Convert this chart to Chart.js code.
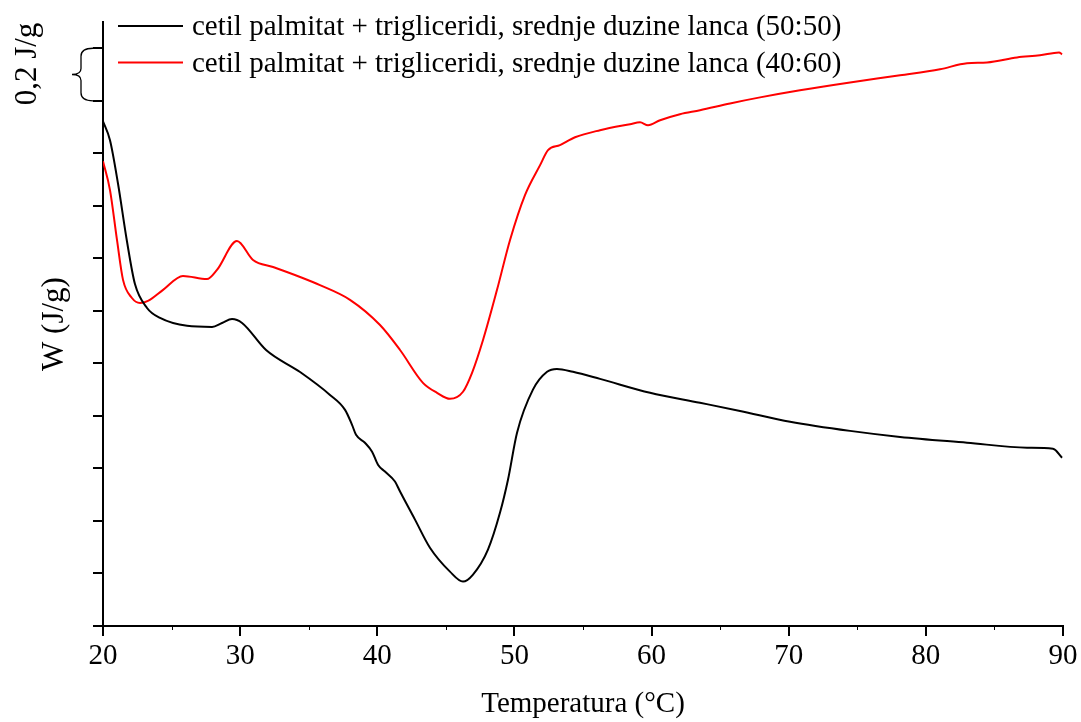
<!DOCTYPE html>
<html>
<head>
<meta charset="utf-8">
<script src="https://cdn.jsdelivr.net/npm/chart.js@4/dist/chart.umd.min.js"></script>
<style>
body { margin: 0; background: #fff; }
</style>
</head>
<body>
<canvas id="dsc" width="1081" height="722"></canvas>
<script>
// temperatures (°C) and heat flow (J/g, arbitrary offset)
var blackT = [20.0, 20.51, 21.09, 21.75, 22.33, 23.21, 24.16, 26.13, 27.95, 28.68, 29.41, 30.14, 31.89, 34.37, 36.55, 37.65, 38.16, 38.45, 39.10, 39.62, 40.05, 40.56, 41.29, 41.66, 42.75, 43.84, 45.30, 46.25, 46.98, 48.07, 48.95, 49.53, 50.19, 51.35, 52.38, 53.10, 54.27, 56.24, 59.89, 63.53, 66.45, 70.10, 74.47, 78.12, 83.00, 87.38, 89.27, 89.93];
var blackW = [1.922, 1.850, 1.686, 1.464, 1.302, 1.211, 1.173, 1.143, 1.139, 1.154, 1.169, 1.154, 1.051, 0.967, 0.880, 0.823, 0.766, 0.728, 0.698, 0.664, 0.614, 0.588, 0.550, 0.512, 0.405, 0.298, 0.207, 0.169, 0.196, 0.291, 0.432, 0.557, 0.736, 0.900, 0.968, 0.979, 0.968, 0.941, 0.888, 0.850, 0.819, 0.778, 0.743, 0.720, 0.698, 0.679, 0.675, 0.641];

var redT = [20.0, 20.51, 21.02, 21.46, 22.11, 22.70, 23.28, 24.38, 25.83, 27.58, 28.31, 29.77, 30.94, 32.40, 34.37, 35.82, 38.01, 40.20, 41.66, 43.33, 44.36, 45.30, 46.25, 46.91, 47.71, 48.73, 49.68, 50.77, 51.87, 52.45, 53.32, 54.42, 56.24, 58.43, 59.16, 59.74, 60.62, 62.07, 63.53, 65.72, 67.91, 70.82, 74.47, 78.12, 81.03, 83.00, 84.46, 86.65, 88.32, 89.71, 89.93];
var redW = [1.770, 1.660, 1.470, 1.318, 1.249, 1.230, 1.238, 1.280, 1.333, 1.321, 1.356, 1.466, 1.394, 1.367, 1.329, 1.298, 1.242, 1.146, 1.051, 0.926, 0.888, 0.865, 0.892, 0.964, 1.089, 1.280, 1.470, 1.641, 1.755, 1.812, 1.831, 1.861, 1.888, 1.911, 1.918, 1.907, 1.926, 1.949, 1.964, 1.990, 2.013, 2.040, 2.070, 2.097, 2.120, 2.143, 2.146, 2.165, 2.173, 2.184, 2.177];

var seriesLabels = ['cetil palmitat + trigliceridi, srednje duzine lanca (50:50)', 'cetil palmitat + trigliceridi, srednje duzine lanca (40:60)'];
var xTicks = [20, 30, 40, 50, 60, 70, 80, 90];
var yTicks = [0, 0.2, 0.4, 0.6, 0.8, 1.0, 1.2, 1.4, 1.6, 1.8, 2.0, 2.2];

Chart.defaults.font.family = 'Liberation Serif';
Chart.defaults.color = '#000';

function pts(xs, ys) {
    return xs.map(function(x, i) { return {x: x, y: ys[i]}; });
}

var extras = {
    id: 'extras',
    afterDraw: function(chart) {
        var ctx = chart.ctx;
        var xs = chart.scales.x, ys = chart.scales.y;
        ctx.save();
        // minor x ticks
        ctx.strokeStyle = '#000';
        ctx.lineWidth = 1;
        for (var t = 25; t < 90; t += 10) {
            var px = Math.round(xs.getPixelForValue(t)) + 0.5;
            ctx.beginPath();
            ctx.moveTo(px, ys.bottom);
            ctx.lineTo(px, ys.bottom + 4);
            ctx.stroke();
        }
        // scale brace for 0,2 J/g
        var y1 = ys.getPixelForValue(2.2), y2 = ys.getPixelForValue(2.0);
        var ym = (y1 + y2) / 2;
        ctx.lineWidth = 1.3;
        ctx.beginPath();
        ctx.moveTo(93, y1);
        ctx.quadraticCurveTo(81, y1, 81, y1 + 8);
        ctx.lineTo(81, ym - 6);
        ctx.quadraticCurveTo(81, ym, 72, ym);
        ctx.quadraticCurveTo(81, ym, 81, ym + 6);
        ctx.lineTo(81, y2 - 8);
        ctx.quadraticCurveTo(81, y2, 93, y2);
        ctx.stroke();
        ctx.fillStyle = '#000';
        ctx.font = '31px "Liberation Serif"';
        ctx.textAlign = 'center';
        ctx.textBaseline = 'middle';
        ctx.translate(28, 64);
        ctx.rotate(-Math.PI / 2);
        ctx.fillText('0,2 J/g', 0, 0);
        ctx.restore();

        // legend
        ctx.save();
        ctx.font = '29px "Liberation Serif"';
        ctx.textAlign = 'left';
        ctx.textBaseline = 'alphabetic';
        var rows = [26, 62.5];
        var bases = [35, 71.5];
        chart.data.datasets.forEach(function(ds, i) {
            ctx.strokeStyle = ds.borderColor;
            ctx.lineWidth = 2;
            ctx.beginPath();
            ctx.moveTo(118, rows[i]);
            ctx.lineTo(183, rows[i]);
            ctx.stroke();
            ctx.fillStyle = '#000';
            ctx.fillText(ds.label, 192, bases[i]);
        });
        ctx.restore();
    }
};

var ctx = document.getElementById('dsc').getContext('2d');
var chart = new Chart(ctx, {
    type: 'line',
    data: {
        datasets: [{
            label: seriesLabels[0],
            data: pts(blackT, blackW),
            borderColor: '#000000',
            borderWidth: 2,
            pointRadius: 0,
            cubicInterpolationMode: 'monotone'
        }, {
            label: seriesLabels[1],
            data: pts(redT, redW),
            borderColor: '#ff0000',
            borderWidth: 2,
            pointRadius: 0,
            cubicInterpolationMode: 'monotone'
        }]
    },
    options: {
        responsive: false,
        animation: false,
        layout: { padding: { left: 0, right: 18, top: 22, bottom: 0 } },
        plugins: {
            legend: { display: false },
            tooltip: { enabled: false }
        },
        scales: {
            x: {
                type: 'linear',
                min: 20,
                max: 90,
                afterFit: function(s) { s.height = 96; },
                afterBuildTicks: function(s) { s.ticks = xTicks.map(function(v) { return {value: v}; }); },
                border: { color: '#000', width: 2 },
                grid: { drawOnChartArea: false, drawTicks: true, tickLength: 10, color: '#000', lineWidth: 2 },
                ticks: { font: { size: 29 }, padding: 3, maxRotation: 0 },
                title: { display: true, text: 'Temperatura (°C)', font: { size: 29 }, padding: { top: 0, bottom: 0 } }
            },
            y: {
                min: 0,
                max: 2.3,
                afterFit: function(s) { s.width = 103; },
                afterBuildTicks: function(s) { s.ticks = yTicks.map(function(v) { return {value: v}; }); },
                border: { color: '#000', width: 2 },
                grid: { drawOnChartArea: false, drawTicks: true, tickLength: 10, color: '#000', lineWidth: 2 },
                ticks: { display: false },
                title: { display: true, text: 'W (J/g)', font: { size: 31 }, padding: { top: 36, bottom: 0 } }
            }
        }
    },
    plugins: [extras]
});
</script>
</body>
</html>
